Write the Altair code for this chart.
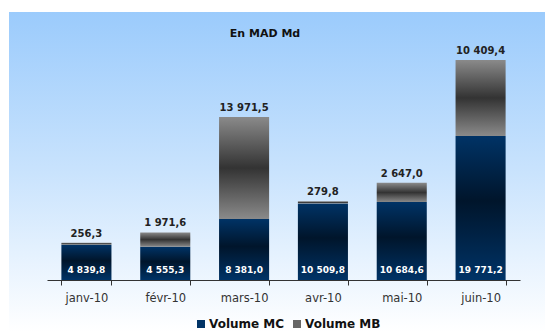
import altair as alt
import pandas as pd

months = ["janv-10", "févr-10", "mars-10", "avr-10", "mai-10", "juin-10"]
volume_mc = [4839.8, 4555.3, 8381.0, 10509.8, 10684.6, 19771.2]
volume_mb = [256.3, 1971.6, 13971.5, 279.8, 2647.0, 10409.4]
series_names = ["Volume MC", "Volume MB"]
chart_title = "En MAD Md"


def fr(v):
    return f"{v:,.1f}".replace(",", " ").replace(".", ",")


df = pd.DataFrame({
    "month": months,
    "mc": volume_mc,
    "mb": volume_mb,
})
df["total"] = df["mc"] + df["mb"]
df["mc_label"] = [fr(v) for v in df["mc"]]
df["mb_label"] = [fr(v) for v in df["mb"]]

df_long = pd.DataFrame({
    "month": months * 2,
    "series": [series_names[0]] * 6 + [series_names[1]] * 6,
})

FONT = "DejaVu Sans"

grad_bg = alt.LinearGradient(
    gradient="linear", x1=0, x2=0, y1=0, y2=1,
    stops=[alt.GradientStop(color="#9BCBFC", offset=0),
           alt.GradientStop(color="#C9E3FD", offset=0.5),
           alt.GradientStop(color="#FFFFFF", offset=1)])
grad_mc = alt.LinearGradient(
    gradient="linear", x1=0, x2=0, y1=0, y2=1,
    stops=[alt.GradientStop(color="#003366", offset=0),
           alt.GradientStop(color="#00152B", offset=0.45),
           alt.GradientStop(color="#003366", offset=1)])
grad_mb = alt.LinearGradient(
    gradient="linear", x1=0, x2=0, y1=0, y2=1,
    stops=[alt.GradientStop(color="#8A8A8A", offset=0),
           alt.GradientStop(color="#333333", offset=0.5),
           alt.GradientStop(color="#8A8A8A", offset=1)])

x_enc = alt.X(
    "month:N", sort=months,
    scale=alt.Scale(paddingInner=0.365, paddingOuter=0.1825),
    axis=alt.Axis(title=None, labelAngle=0, tickBand="extent", zindex=1,
                  domainColor="#333333", tickColor="#333333", tickSize=5,
                  labelFont=FONT, labelFontSize=11.5, labelColor="#333333",
                  labelPadding=7))
y_scale = alt.Scale(domain=[0, 32240])

bg = alt.Chart(pd.DataFrame({"a": [0]})).mark_rect(fill=grad_bg).encode(
    x=alt.value(-38), x2=alt.value(498), y=alt.value(-33), y2=alt.value(287))

title_layer = alt.Chart(pd.DataFrame({"t": [chart_title]})).mark_text(
    font=FONT, fontSize=11, fontWeight="bold", color="#111111",
    baseline="middle", align="center").encode(
    x=alt.value(218), y=alt.value(-11), text="t:N")

base = alt.Chart(df)

bars_mc = base.mark_bar(fill=grad_mc).encode(
    x=x_enc,
    y=alt.Y("mc:Q", scale=y_scale, axis=None),
)
bars_mb = base.mark_bar(fill=grad_mb).encode(
    x=x_enc,
    y=alt.Y("mc:Q", scale=y_scale, axis=None),
    y2="total:Q",
)
text_mb = base.mark_text(font=FONT, fontSize=10, fontWeight="bold",
                         color="#222222", baseline="alphabetic", dy=-6).encode(
    x=x_enc,
    y=alt.Y("total:Q", scale=y_scale, axis=None),
    text="mb_label:N",
)
text_mc = base.mark_text(font=FONT, fontSize=9, fontWeight="bold",
                         color="#FFFFFF", baseline="alphabetic", dy=-7).encode(
    x=x_enc,
    y=alt.YDatum(0, scale=y_scale, axis=None),
    text="mc_label:N",
)
legend_layer = alt.Chart(df_long).mark_square(opacity=0).encode(
    x=x_enc,
    y=alt.YDatum(0, scale=y_scale, axis=None),
    color=alt.Color(
        "series:N",
        scale=alt.Scale(domain=series_names, range=["#003366", "#666666"]),
        legend=alt.Legend(orient="none", legendX=148, legendY=273,
                          direction="horizontal", title=None,
                          symbolType="square", symbolSize=64,
                          symbolOpacity=1, symbolStrokeWidth=0,
                          labelFont=FONT, labelFontSize=12,
                          labelFontWeight="bold", labelColor="#111111",
                          columnPadding=6, labelOffset=2)),
)

chart = alt.layer(bg, title_layer, bars_mc, bars_mb, text_mb, text_mc,
                  legend_layer).properties(
    width=473, height=235,
    padding={"left": 47, "top": 45, "right": 25, "bottom": 52},
    autosize=alt.AutoSizeParams(type="none"),
    background="#FFFFFF",
).configure_view(stroke=None, fill=None)

chart.save("out.html", embed_options={"renderer": "svg", "actions": False})
